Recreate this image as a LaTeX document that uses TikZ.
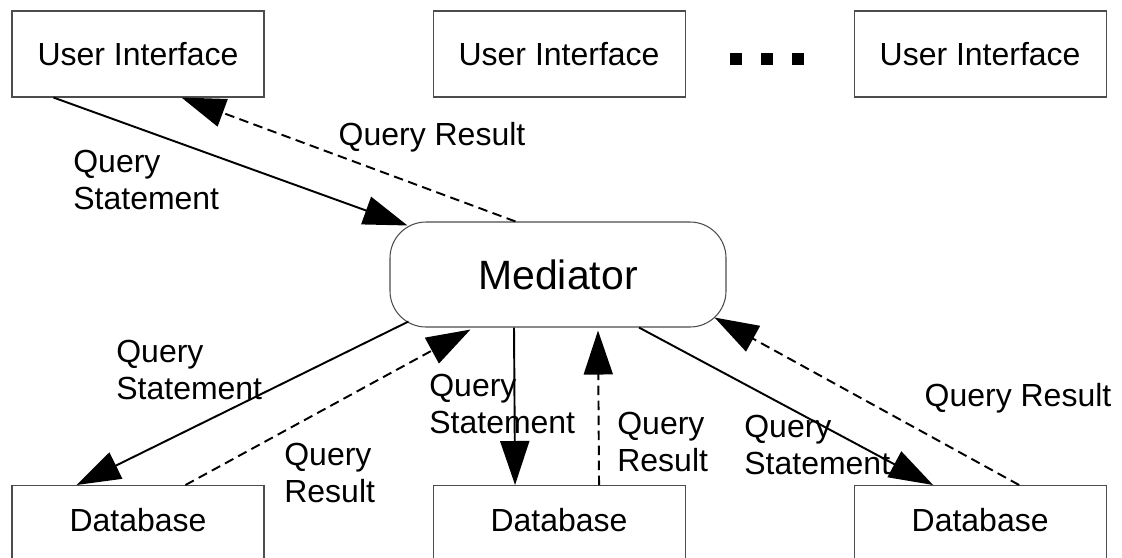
\documentclass[tikz,border=0pt]{standalone}
\usepackage{fontspec}
\setmainfont{Liberation Sans}
\usetikzlibrary{arrows.meta,positioning}

\begin{document}
\begin{tikzpicture}[node distance=3.36cm,
  box/.style={rectangle,draw=black!70,line width=.6pt,minimum width=5.04cm,minimum height=1.72cm,font=\fontsize{18.2}{21}\selectfont},
  dbbox/.style={box,minimum height=0pt,inner ysep=0pt,text height=.92cm,text depth=1cm},
  dot/.style={rectangle,fill=black,minimum size=.24cm,inner sep=0pt},
  lbl/.style={align=left,anchor=west,inner sep=0pt,font=\fontsize{18.2}{21.5}\selectfont},
  qs/.style={-{Triangle[length=.88cm,width=.58cm]},line width=1.1pt},
  qr/.style={qs,dash pattern=on .19cm off .11cm}]

\clip (0,0) rectangle (22.44,-11.14);

% Nodes
\node[box] (ui1) at (2.76,-1.08) {User Interface};
\node[box,right=of ui1] (ui2) {User Interface};
\node[box,right=of ui2] (ui3) {User Interface};
\foreach \i/\x in {1/14.72,2/15.34,3/15.96}
  \node[dot] (dot\i) at (\x,-1.18) {};

\node[box,rounded corners=.72cm,minimum width=6.72cm,minimum height=2.1cm,font=\fontsize{23.3}{28}\selectfont] (med) at (11.16,-5.49) {Mediator};

\node[dbbox,anchor=north] (db1) at (2.76,-9.7) {Database};
\node[dbbox,right=of db1] (db2) {Database};
\node[dbbox,right=of db2] (db3) {Database};

% labels
\node[lbl,anchor=center] (qrtop) at (8.64,-2.74) {Query Result};
\node[lbl] (qstop) at (1.46,-3.6) {Query\\Statement};
\node[lbl] (qsleft) at (2.32,-7.4) {Query\\Statement};
\node[lbl] (qrleft) at (5.68,-9.46) {Query\\Result};
\node[lbl] (qsmid) at (8.58,-8.08) {Query\\Statement};
\node[lbl] (qrmid) at (12.34,-8.84) {Query\\Result};
\node[lbl] (qsright) at (14.88,-8.9) {Query\\Statement};
\node[lbl,anchor=center] (qrright) at (20.36,-7.96) {Query Result};

%arcs
\draw[qs] ([xshift=.84cm]ui1.south west) -- ([xshift=.36cm,yshift=-.08cm]med.north west);
\draw[qr] ([xshift=2.52cm]med.north west) -- ([xshift=3.4cm]ui1.south west);
\draw[qs] ([xshift=.38cm,yshift=.12cm]med.south west) -- ([xshift=1.3cm]db1.north west);
\draw[qr] ([xshift=3.48cm]db1.north west) -- ([xshift=1.62cm,yshift=-.04cm]med.south west);
\draw[qs] ([xshift=-.88cm]med.south) -- ([xshift=-.88cm]db2.north);
\draw[qr] ([xshift=.8cm]db2.north) -- ([xshift=.8cm,yshift=-.06cm]med.south);
\draw[qs] ([xshift=1.62cm]med.south) -- ([xshift=-.94cm]db3.north);
\draw[qr] ([xshift=.78cm]db3.north) -- ([xshift=-.24cm,yshift=.2cm]med.south east);
\end{tikzpicture}
\end{document}
